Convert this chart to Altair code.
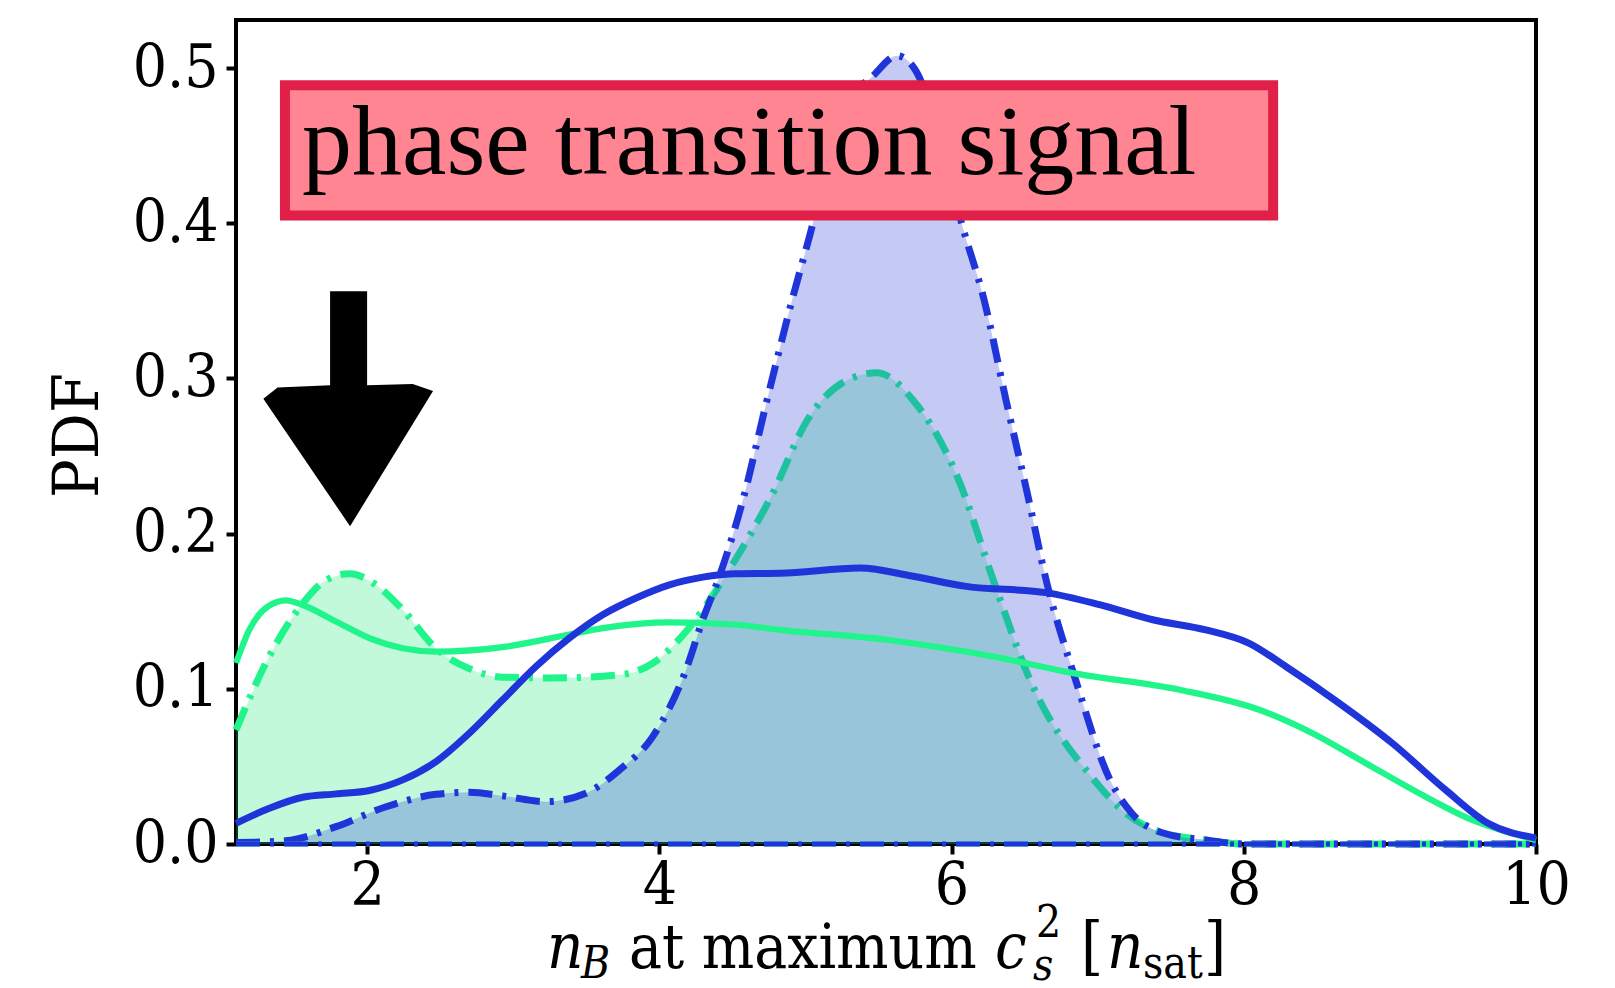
import altair as alt
import pandas as pd

# ---------------- data ----------------
green_solid_x = [1.103, 1.194, 1.32, 1.445, 1.559, 1.787, 2.016, 2.244, 2.472, 2.928, 3.385, 3.613,
                 4.069, 4.525, 4.826, 5.555, 6.284, 6.832, 7.56, 8.105, 8.47, 8.836, 9.2, 9.563, 10.0]
green_solid_y = [0.1166, 0.138, 0.153, 0.157, 0.154, 0.1434, 0.1327, 0.1262, 0.124, 0.1269, 0.135, 0.1391,
                 0.1428, 0.1413, 0.138, 0.1316, 0.1208, 0.1101, 0.0994, 0.0865, 0.0714, 0.052, 0.0327, 0.0155, 0.0026]

blue_solid_x = [1.103, 1.331, 1.559, 1.787, 2.016, 2.244, 2.472, 2.70, 2.928, 3.156, 3.385, 3.613, 3.841,
                4.069, 4.297, 4.525, 4.826, 5.373, 5.737, 6.10, 6.647, 7.013, 7.377, 7.74, 8.034, 8.288,
                8.652, 9.016, 9.382, 9.672, 10.0]
blue_solid_y = [0.0133, 0.0230, 0.0301, 0.0323, 0.0345, 0.0413, 0.0531, 0.0714, 0.0929, 0.1144, 0.1327, 0.1477, 0.1585,
                0.167, 0.172, 0.1742, 0.1745, 0.1778, 0.1725, 0.166, 0.162, 0.1542, 0.1445, 0.138, 0.1295, 0.1144,
                0.0908, 0.065, 0.0348, 0.0134, 0.0039]

green_dd_x = [1.103, 1.331, 1.559, 1.719, 1.879, 2.061, 2.244, 2.472, 2.70, 2.928, 3.27, 3.727, 3.955,
              4.183, 4.343, 4.48, 4.755, 5.03, 5.25, 5.489, 5.733, 6.048, 6.285, 6.537, 6.976, 7.19,
              7.45, 7.74, 8.0, 10.0]
green_dd_y = [0.0735, 0.121, 0.155, 0.170, 0.1742, 0.167, 0.151, 0.126, 0.113, 0.1075, 0.107, 0.109, 0.1165,
              0.137, 0.157, 0.177, 0.222, 0.2757, 0.297, 0.3037, 0.2865, 0.2348, 0.1703, 0.1058, 0.0413, 0.02,
              0.0071, 0.0026, 0.0, 0.0]

blue_dd_x = [1.103, 1.445, 1.787, 2.13, 2.472, 2.70, 2.928, 3.225, 3.498, 3.727, 3.955, 4.183, 4.297,
             4.411, 4.573, 4.737, 4.91, 5.046, 5.23, 5.463, 5.627, 5.748, 5.9, 6.075, 6.222, 6.373,
             6.528, 6.647, 6.849, 7.085, 7.232, 7.448, 7.74, 8.0, 10.0]
blue_dd_y = [0.0009, 0.0021, 0.0112, 0.024, 0.032, 0.0333, 0.031, 0.0273, 0.0327, 0.0477, 0.0692, 0.1123, 0.1445,
             0.1725, 0.222, 0.286, 0.351, 0.398, 0.471, 0.495, 0.508, 0.4994, 0.462, 0.398, 0.351, 0.286,
             0.222, 0.1703, 0.1058, 0.0413, 0.02, 0.0071, 0.0026, 0.0, 0.0]

x_ticks = [2, 4, 6, 8, 10]
y_ticks = [0.0, 0.1, 0.2, 0.3, 0.4, 0.5]
x_domain = [1.103, 10.0]
y_domain = [0.0, 0.531]

label_text = "phase transition signal"
y_title = "PDF"

# ---------------- styling ----------------
BLUE = "#1F35D9"
GREEN = "#1FF58A"
BLUE_FILL = "#2033D7"
GREEN_FILL = "#18E875"
BOX_FILL = "#FF8593"
BOX_STROKE = "#E02048"
SERIF_C = "DejaVu Serif Condensed, DejaVu Serif"
DASHDOT = [24, 10, 4, 10]

W, H = 1300, 824

df_gs = pd.DataFrame({"x": green_solid_x, "y": green_solid_y})
df_bs = pd.DataFrame({"x": blue_solid_x, "y": blue_solid_y})
df_gd = pd.DataFrame({"x": green_dd_x, "y": green_dd_y})
df_bd = pd.DataFrame({"x": blue_dd_x, "y": blue_dd_y})

x_axis = alt.Axis(values=x_ticks, format="d", labelFont=SERIF_C, labelFontSize=60, labelColor="black",
                  tickColor="black", tickWidth=4, tickSize=10, labelPadding=3, domain=False, grid=False,
                  labelFlush=False, labelOverlap=False, title=None)
y_axis = alt.Axis(values=y_ticks, format=".1f", labelFont=SERIF_C, labelFontSize=60, labelColor="black",
                  tickColor="black", tickWidth=4, tickSize=10, labelPadding=8, domain=False, grid=False,
                  labelFlush=False, labelOverlap=False, title=y_title, titleFont=SERIF_C, titleFontSize=64,
                  titleFontWeight="normal", titleColor="black", titleAngle=-90, titleX=-158, titleY=H / 2 + 3,
                  titleAlign="center", titleBaseline="middle")

X = alt.X("x:Q", scale=alt.Scale(domain=x_domain, nice=False, zero=False), axis=x_axis)
Y = alt.Y("y:Q", scale=alt.Scale(domain=y_domain, nice=False), axis=y_axis)


def area(df, color):
    return alt.Chart(df).mark_area(interpolate="monotone", color=color, opacity=0.26).encode(x=X, y=Y)


def line(df, color, dash=None, width=5):
    kw = dict(interpolate="monotone", color=color, strokeWidth=width)
    if dash:
        kw["strokeDash"] = dash
    return alt.Chart(df).mark_line(**kw).encode(x=X, y=Y)


base_rule_df = pd.DataFrame({"x": [x_domain[0]], "x2": [x_domain[1]], "y": [0.0]})


def base_rule(color):
    return alt.Chart(base_rule_df).mark_rule(color=color, strokeWidth=5, strokeDash=DASHDOT).encode(
        x=X, x2="x2:Q", y=Y)


# annotation box
box_df = pd.DataFrame({"x": [1.438], "x2": [8.201], "y": [0.489], "y2": [0.405]})
box = alt.Chart(box_df).mark_rect(fill=BOX_FILL, stroke=BOX_STROKE, strokeWidth=10).encode(
    x=X, x2="x2:Q", y=Y, y2="y2:Q")

txt_df = pd.DataFrame({"x": [1.555], "y": [0.4316], "t": [label_text]})
box_text = alt.Chart(txt_df).mark_text(font="Liberation Serif", fontSize=100, color="black", align="left",
                                       baseline="alphabetic").encode(x=X, y=Y, text="t:N")

arrow_df = pd.DataFrame({"x": [1.870], "y": [0.2805]})
ARROW = ("M -0.153 -1 L 0.162 -1 L 0.162 -0.2 L 0.55 -0.21 L 0.723 -0.15 L 0.017 1 "
         "L -0.721 -0.085 L -0.6 -0.18 L -0.153 -0.2 Z")
arrow = alt.Chart(arrow_df).mark_point(shape=ARROW, size=55225, filled=True, color="black", opacity=1,
                                       strokeWidth=0).encode(x=X, y=Y)

# x-axis title built from pieces (math-style sub/superscripts)
one = pd.DataFrame({"k": [0]})


def piece(text, px, py, size, italic=False):
    kw = dict(text=text, font=SERIF_C, fontSize=size, color="black", align="left", baseline="alphabetic")
    if italic:
        kw["fontStyle"] = "italic"
    return alt.Chart(one).mark_text(**kw).encode(x=alt.value(px), y=alt.value(py))


title_pieces = [
    piece("n", 311, 948, 63, True),
    piece("B", 345, 958, 44, True),
    piece("at maximum", 393, 948, 61.5),
    piece("c", 759, 948, 63, True),
    piece("2", 800, 917, 44),
    piece("s", 797, 960, 44, True),
    piece("[", 845, 948, 63),
    piece("n", 871, 948, 63, True),
    piece("sat", 907, 958, 44),
    piece("]", 968, 948, 63),
]

layers = [
    area(df_gd, GREEN_FILL),
    line(df_gd, GREEN, DASHDOT, 7),
    area(df_bd, BLUE_FILL),
    line(df_bd, BLUE, DASHDOT, 7),
    base_rule(GREEN),
    base_rule(BLUE),
    line(df_gs, GREEN, None, 6.2),
    line(df_bs, BLUE, None, 7),
    box,
    box_text,
    arrow,
] + title_pieces

chart = alt.layer(*layers).properties(
    width=W, height=H,
    autosize=alt.AutoSizeParams(type="none"),
    padding={"left": 236, "top": 20, "right": 79, "bottom": 144},
    background="white",
).configure_view(stroke="black", strokeWidth=4)

chart.save("out.html", embed_options={"renderer": "svg", "actions": False})
